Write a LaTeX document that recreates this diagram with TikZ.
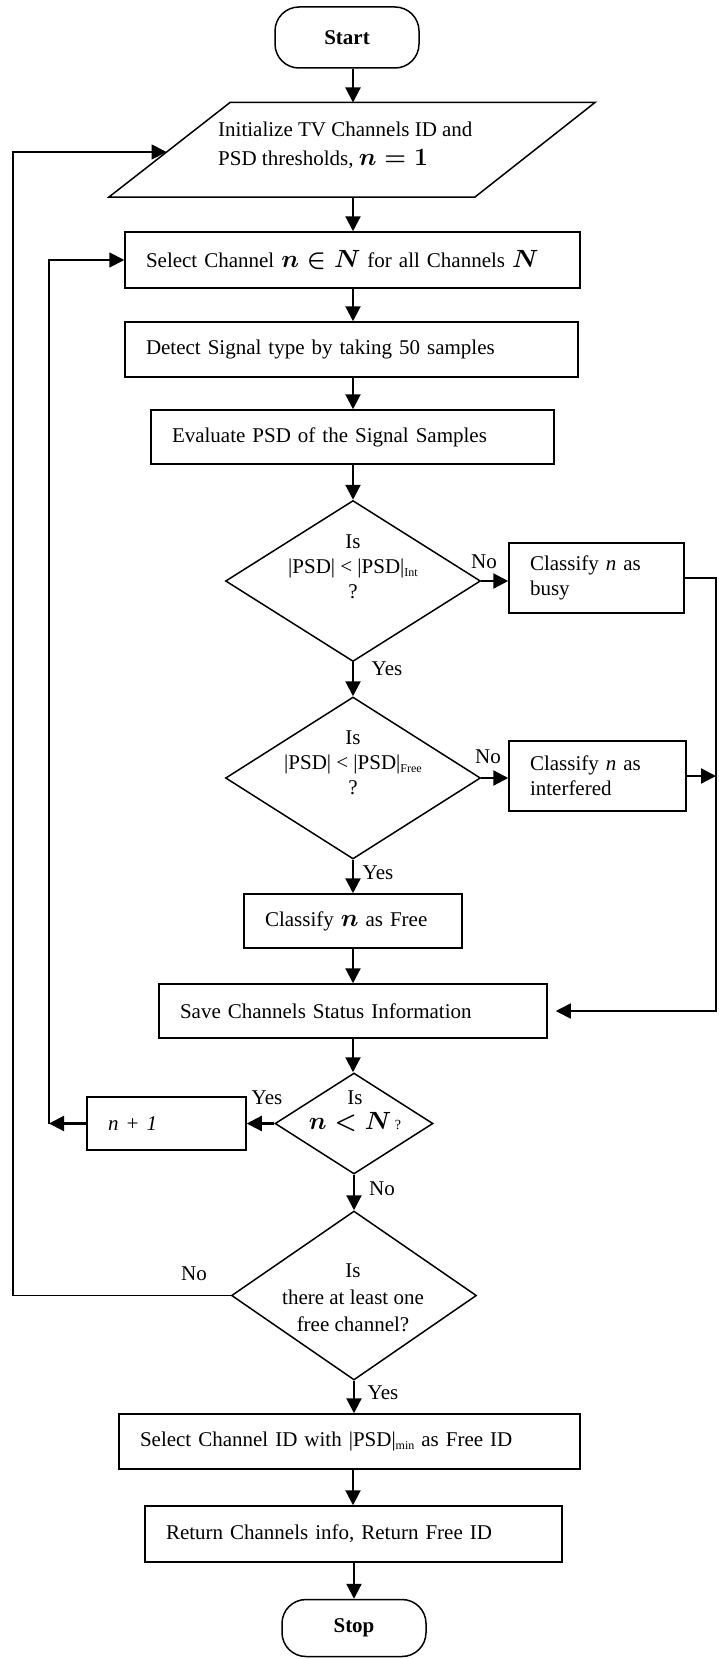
\documentclass[tikz,border=0pt]{standalone}
\usepackage{fontspec}
\setmainfont{Liberation Serif}
\usetikzlibrary{shapes.geometric,arrows.meta}
\newcommand\mth[1]{{\fontsize{26}{26}\selectfont\boldmath\(#1\)}}
\newcommand\mthb[1]{{\fontsize{28}{28}\selectfont\boldmath\(#1\)}}
\newcommand\subtxt[1]{\raisebox{-3pt}{\fontsize{12}{12}\selectfont #1}}
\begin{document}
\begin{tikzpicture}[x=1pt,y=-1pt, font=\fontsize{21}{25}\selectfont,
  bx/.style 2 args={draw, line width=1.5pt, rectangle, inner xsep=21pt, inner ysep=0pt, text width=#1, minimum height=#2, align=left},
  term/.style={draw, line width=1.5pt, rounded corners=24pt, minimum width=144pt, minimum height=#1, inner sep=0pt, font=\fontsize{21}{25}\selectfont\bfseries},
  dia/.style={draw, diamond, line width=1.5pt, inner sep=0pt},
  dtxt/.style={align=center, inner sep=0pt},
  lab/.style={inner sep=0pt},
  arr/.style={line width=2.2pt, -{Triangle[length=15pt,width=15pt]}},
  lp/.style={line width=1.8pt}]
\fill[white] (0,0) rectangle (719,1659);
\useasboundingbox (0,0) rectangle (719,1659);

% axis and loop columns
\coordinate (ax) at (353,0);
\coordinate (rx) at (716,0);
\coordinate (lx1) at (13,0);
\coordinate (lx2) at (49,0);

% terminals
\node[term=61pt] (start) at (347,37.5) {Start};
\node[term=57pt] (stop) at (354,1628) {Stop};

% parallelogram
\coordinate (iTL) at (230,102.5);
\coordinate (iTR) at (595,102.5);
\coordinate (iBR) at (475,197);
\coordinate (iBL) at (109,197);
\coordinate (iT) at (353,102.5);
\coordinate (iB) at (353,197);
\coordinate (iL) at (166.5,152);
\draw[line width=1.5pt, line join=miter] (iTL) -- (iTR) -- (iBR) -- (iBL) -- cycle;
\node[align=left, inner sep=0pt, anchor=west] (init) at (218,145) {Initialize TV Channels ID and\\[4pt]PSD thresholds, \mth{n = 1}};

% process boxes
\node[bx={413pt}{56pt}] (sel) at (352.5,260) {Select Channel \mth{n \in N} for all Channels \mth{N}};
\node[bx={411pt}{55pt}] (det) at (351.5,349.5) {Detect Signal type by taking 50 samples};
\node[bx={361pt}{54pt}] (eva) at (352.5,437) {Evaluate PSD of the Signal Samples};
\node[bx={133pt}{70pt}] (busy) at (596.5,578) {Classify \textit{n} as\\busy};
\node[bx={135pt}{70pt}] (intf) at (597.5,776) {Classify \textit{n} as\\interfered};
\node[bx={176pt}{54pt}] (free) at (353,921) {Classify \mth{n} as Free};
\node[bx={346pt}{54pt}] (save) at (353,1011) {Save Channels Status Information};
\node[bx={117pt}{53pt}] (np1) at (166.5,1123.5) {\textit{n + 1}};
\node[bx={419pt}{55pt}] (selid) at (349.5,1441.5) {Select Channel ID with |PSD|\subtxt{min} as Free ID};
\node[bx={375pt}{56pt}] (ret) at (353.5,1534) {Return Channels info, Return Free ID};

% decisions
\node[dia, minimum width=255pt, minimum height=161pt] (d1) at (353,581) {};
\node[dtxt] (d1t) at (353,567) {Is\\|PSD| < |PSD|\subtxt{Int}\\?};
\node[dia, minimum width=255pt, minimum height=162pt] (d2) at (353,778) {};
\node[dtxt] (d2t) at (353,763) {Is\\|PSD| < |PSD|\subtxt{Free}\\?};
\node[dia, minimum width=158pt, minimum height=101pt] (d3) at (354,1123.5) {};
\node[dtxt] (d3t) at (355,1111) {Is\\\mthb{n < N}\,{\fontsize{14}{14}\selectfont ?}};
\node[dia, minimum width=245pt, minimum height=169pt] (d4) at (354,1295.5) {};
\node[dtxt, font=\fontsize{21}{27}\selectfont] (d4t) at (353,1298) {Is\\there at least one\\free channel?};

% labels
\node[lab] (no1) at (484,562) {No};
\node[lab] (yes1) at (387,669) {Yes};
\node[lab] (no2) at (488,757) {No};
\node[lab] (yes2) at (378,873) {Yes};
\node[lab] (yes3) at (267,1098) {Yes};
\node[lab] (no3) at (382,1189) {No};
\node[lab] (no4) at (194,1274) {No};
\node[lab] (yes4) at (383,1393) {Yes};

% main flow
\draw[arr] (start.south -| iT) -- (iT);
\draw[arr] (iB) -- (iB |- sel.north);
\draw[arr] (sel.south -| ax) -- (det.north -| ax);
\draw[arr] (det.south -| ax) -- (eva.north -| ax);
\draw[arr] (eva.south -| ax) -- (d1.north);
\draw[arr] (d1.east) -- (d1.east -| busy.west);
\draw[arr] (d1.south) -- (d2.north);
\draw[arr] (d2.east) -- (d2.east -| intf.west);
\draw[arr] (d2.south) -- (free.north -| d2.south);
\draw[arr] (free.south -| ax) -- (save.north -| ax);
\draw[arr] (save.south -| ax) -- (d3.north -| ax);
\draw[arr] (d3.west) -- (d3.west -| np1.east);
\draw[arr] (d3.south) -- (d4.north);
\draw[arr] (d4.south) -- (d4.south |- selid.north);
\draw[arr] (selid.south -| ax) -- (ret.north -| ax);
\draw[arr] (ret.south -| stop.north) -- (stop.north);

% right side return
\draw[lp, -{Triangle[length=15pt,width=15pt]}] (busy.east) -- (busy.east -| rx) -- (rx |- save.east) -- ([xshift=8pt]save.east);
\draw[arr] (intf.east) -- (intf.east -| rx);

% inner loop n+1
\draw[arr] (np1.west) -- (np1.west -| lx2);
\draw[lp, -{Triangle[length=15pt,width=15pt]}] (np1.west -| lx2) -- (lx2 |- sel.west) -- (sel.west);

% outer loop
\draw[lp, -{Triangle[length=15pt,width=15pt]}] (d4.west) -- (d4.west -| lx1) -- (lx1 |- iL) -- (iL);
\end{tikzpicture}
\end{document}
